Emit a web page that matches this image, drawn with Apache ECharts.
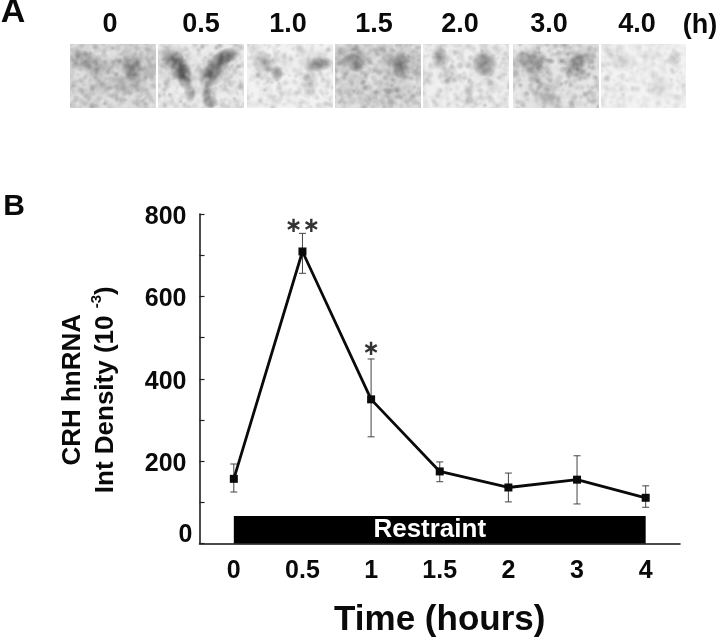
<!DOCTYPE html>
<html><head><meta charset="utf-8">
<style>html,body{margin:0;padding:0;background:#fff}#c{width:720px;height:637px}</style>
<script src="https://cdn.jsdelivr.net/npm/echarts@6/dist/echarts.min.js"></script>
</head><body><div id="c"></div>
<script>
const timeLabels = ['0','0.5','1','1.5','2','3','4'];
const meanValues = [157,709,350,175,136,155,111];
const upperValues = [193,753,448,198,171,213,140];
const lowerValues = [125,656,259,150,101,96,88];
const starLabels = [['0.5',769,'∗∗'],['1',471,'∗']];
const restraintLabel = 'Restraint';
const restraintFrom = '0', restraintTo = '4', restraintHeight = 67;
const blotLabels = ['0','0.5','1.0','1.5','2.0','3.0','4.0'];

const FONT = '"Liberation Sans", Arial, sans-serif';
const blotPanels = [
 {x:70, lx:110, bg:'#d8d8d8', grain:.11, blobs:[[12,16,17,12,.38,0],[27,23,15,13,.32,0],[63,23,13,15,.4,0],[63,38,17,14,.24,0],[33,42,24,13,.14,0],[66,20,28,19,.14,0]]},
 {x:158, lx:201, bg:'#eaeaea', grain:.1, blobs:[[15,15,13,10,.7,30],[23,26,11,14,.8,-20],[27,35,8,12,.6,-15],[32,48,6,11,.4,-10],[68,12,16,8,.75,-20],[60,20,13,10,.6,-30],[53,31,14,12,.7,-30],[49,47,6,12,.5,10],[52,58,9,7,.55,0],[18,22,24,24,.14,0],[60,24,26,22,.14,0]]},
 {x:247, lx:288, bg:'#f1f1f1', grain:.08, blobs:[[17,19,17,12,.3,35],[30,29,7,9,.5,0],[72,20,15,8,.58,-8],[63,38,9,17,.22,10],[65,15,21,14,.1,0]]},
 {x:335, lx:374, bg:'#dadada', grain:.11, blobs:[[17,14,22,15,.32,0],[18,15,8,7,.36,0],[21,23,8,6,.42,0],[65,21,9,14,.5,0],[66,20,26,18,.26,0],[17,46,24,17,.1,0],[62,46,22,17,.14,0],[40,34,5,38,.0,0]]},
 {x:423, lx:460, bg:'#ededed', grain:.09, blobs:[[17,14,9,13,.46,-15],[62,19,13,14,.54,0],[26,33,11,11,.2,0],[46,51,5,15,.22,0],[60,24,17,17,.12,0]]},
 {x:513, lx:549, bg:'#dfdfdf', grain:.12, blobs:[[19,18,21,13,.42,10],[62,22,9,14,.52,30],[70,13,15,10,.28,0],[66,20,24,17,.14,0],[36,52,17,16,.2,0],[25,35,18,15,.12,0]]},
 {x:601, lx:637, bg:'#f2f2f2', grain:.06, blobs:[[20,17,15,12,.14,0],[73,15,8,9,.2,0],[57,43,11,17,.12,0]]}
];
const PW = 86, PY = 44, PH = 64;

function grad(c,a){
  return new echarts.graphic.RadialGradient(.5,.5,.5,[
    {offset:0,color:'rgba('+c+','+a+')'},
    {offset:.5,color:'rgba('+c+','+(a*.62)+')'},
    {offset:1,color:'rgba('+c+',0)'}]);
}
function blob(px, b, z) {
  return {type:'circle', silent:true, z:z, x:px+b[0], y:PY+b[1], rotation:-(b[5]||0)*Math.PI/180,
    scaleX:b[2]/10, scaleY:b[3]/10, shape:{cx:0,cy:0,r:10}, style:{fill:grad('45,45,45',b[4])}};
}
function tex(i,j,k){ const s=Math.sin(i*12.9898+j*78.233+k*37.719)*43758.5453; return s-Math.floor(s); }
const blotGraphics = [];
blotPanels.forEach((p,k)=>{
  blotGraphics.push({type:'rect',silent:true,z:1,shape:{x:p.x,y:PY,width:PW,height:PH},style:{fill:p.bg}});
  p.blobs.forEach(b=>blotGraphics.push(blob(p.x,b,2)));
  for(let i=0;i<PW;i+=3)for(let j=0;j<PH;j+=3){
    const t=tex(i,j,k), a=p.grain*(.5+tex(j,i,k+9));
    const jx=(tex(i+1,j,k+3)-.5)*5, jy=(tex(i,j+1,k+5)-.5)*5, r=2.4+2.4*tex(i+2,j+2,k);
    blotGraphics.push({type:'circle',silent:true,z:3,x:p.x+i+jx,y:PY+j+jy,shape:{cx:0,cy:0,r:r},
      style:{fill:grad(t>.45?'255,255,255':'60,60,60',a)}});
  }
});
const maskRects=[[40,28,660,16],[40,108,660,30],[40,44,30,64],[686,44,30,64]];
blotPanels.forEach((p,k)=>{ if(k<blotPanels.length-1){const r=blotPanels[k+1].x; maskRects.push([p.x+PW,PY,r-p.x-PW,PH]);}});
maskRects.forEach(r=>blotGraphics.push({type:'rect',silent:true,z:4,shape:{x:r[0],y:r[1],width:r[2],height:r[3]},style:{fill:'#fff'}}));
function txt(t,x,y,fs){return {type:'text',silent:true,z:5,x:x,y:y,style:{text:t,font:'bold '+fs+'px '+FONT,fill:'#0a0a0a',textAlign:'center',textVerticalAlign:'middle'}};}
blotPanels.forEach((p,k)=>blotGraphics.push(txt(blotLabels[k],p.lx,25,27)));
blotGraphics.push(txt('(h)',700,26,27), txt('A',13,13,34), txt('B',14,207,30));

const chart = echarts.init(document.getElementById('c'),null,{renderer:'canvas'});
chart.setOption({
  animation:false, backgroundColor:'#fff',
  graphic:blotGraphics,
  grid:{left:199.5,right:40,top:214,bottom:93.5,outerBoundsMode:'none'},
  xAxis:{type:'category',data:timeLabels,boundaryGap:true,
    axisLine:{lineStyle:{color:'#111',width:1.5}},
    axisTick:{alignWithLabel:true,length:3,lineStyle:{color:'#777',width:1}},
    axisLabel:{interval:0,margin:15,color:'#0a0a0a',fontFamily:FONT,fontWeight:'bold',fontSize:25},
    name:'Time (hours)',nameLocation:'middle',nameGap:59,
    nameTextStyle:{color:'#0a0a0a',fontFamily:FONT,fontWeight:'bold',fontSize:35}},
  yAxis:{type:'value',min:0,max:800,interval:100,splitLine:{show:false},
    axisLine:{show:true,lineStyle:{color:'#111',width:1.5}},
    axisTick:{show:true,inside:true,length:5,lineStyle:{color:'#222',width:1.2}},
    axisLabel:{margin:7,color:'#0a0a0a',fontFamily:FONT,fontWeight:'bold',fontSize:25,
      formatter:v=> v===0?'{z|0}':(v%200===0?'{a|'+v+'}':''),
      rich:{a:{fontFamily:FONT,fontWeight:'bold',fontSize:25,color:'#0a0a0a',padding:[6,6,0,0]},
            z:{fontFamily:FONT,fontWeight:'bold',fontSize:25,color:'#0a0a0a',padding:[0,0,16,0]}}},
    name:'{t|CRH hnRNA}\n{t|Int Density (10 }{s|-3}{t|)}',nameLocation:'middle',nameGap:77,nameRotate:90,
    nameTextStyle:{padding:[0,22,0,0],rich:{
      t:{fontFamily:FONT,fontWeight:'bold',fontSize:26,color:'#0a0a0a',lineHeight:33},
      s:{fontFamily:FONT,fontWeight:'bold',fontSize:15,color:'#0a0a0a',lineHeight:33,verticalAlign:'top'}}}},
  series:[
    {type:'custom',z:3,silent:true,
     data:timeLabels.map((t,i)=>[t,lowerValues[i],upperValues[i]]),
     encode:{x:0,y:[1,2]},
     renderItem:(params,api)=>{
       const lo=api.coord([api.value(0),api.value(1)]), hi=api.coord([api.value(0),api.value(2)]);
       const s={stroke:'#444',lineWidth:1,fill:null}, c=3.5;
       return {type:'group',children:[
         {type:'line',shape:{x1:lo[0],y1:lo[1],x2:hi[0],y2:hi[1]},style:s},
         {type:'line',shape:{x1:lo[0]-c,y1:lo[1],x2:lo[0]+c,y2:lo[1]},style:s},
         {type:'line',shape:{x1:hi[0]-c,y1:hi[1],x2:hi[0]+c,y2:hi[1]},style:s}]};
     }},
    {type:'line',z:4,silent:true,data:meanValues,symbol:'rect',symbolSize:8,showSymbol:true,
     lineStyle:{color:'#0a0a0a',width:2.8},itemStyle:{color:'#0a0a0a'},
     markArea:{silent:true,itemStyle:{color:'#000',opacity:1},
       label:{show:true,position:'inside',offset:[-10,0],color:'#fff',fontFamily:FONT,fontWeight:'bold',fontSize:26},
       data:[[{name:restraintLabel,xAxis:restraintFrom,yAxis:0},{xAxis:restraintTo,yAxis:restraintHeight}]]}},
    {type:'scatter',z:5,silent:true,symbolSize:0,
     data:starLabels.map(s=>({value:[s[0],s[1]],label:{formatter:s[2]}})),
     label:{show:true,position:'inside',color:'#000',fontFamily:'"DejaVu Sans"',fontWeight:'bold',fontSize:21}}
  ]
});
</script></body></html>
